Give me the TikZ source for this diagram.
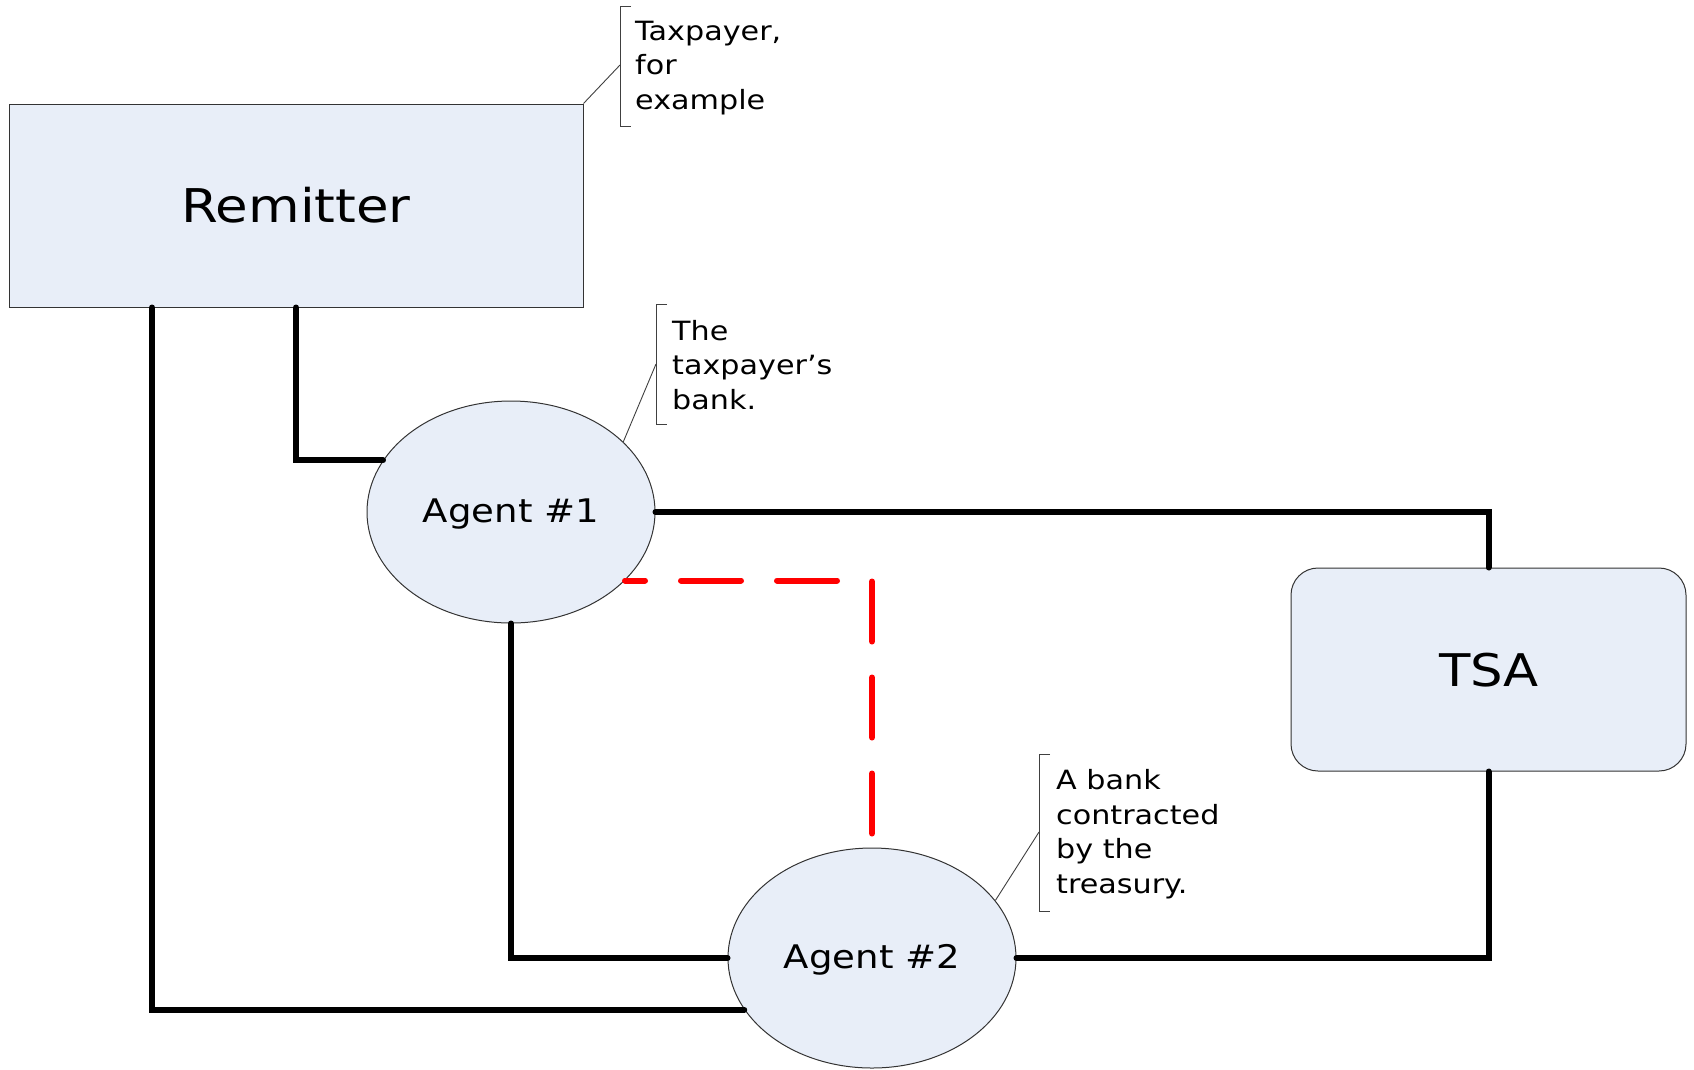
\documentclass[tikz,border=0pt]{standalone}
\usepackage{fontspec}
\setmainfont{DejaVu Sans}[FakeStretch=1.14]
\usetikzlibrary{shapes.geometric}
\definecolor{boxfill}{RGB}{232,238,248}
\tikzset{
  shapebox/.style={draw=black!80, line width=1pt, fill=boxfill, inner sep=0pt},
  conn/.style={line width=6pt, black, line cap=round},
  redconn/.style={line width=6pt, red, line cap=round, dash pattern=on 60pt off 36pt, dash phase=40pt},
  callline/.style={line width=0.9pt, black!75},
  calltext/.style={font=\fontsize{26.5}{34.6}\selectfont, align=left, anchor=west, inner sep=0pt},
  bigtext/.style={font=\fontsize{46.5}{55}\selectfont},
  tsatext/.style={font=\fontsize{45}{55}\selectfont},
  midtext/.style={font=\fontsize{32.5}{40}\selectfont}
}
\begin{document}
\begin{tikzpicture}[x=1pt,y=-1pt]
\useasboundingbox (0,0) rectangle (1694,1069);
\node[shapebox, rectangle, minimum width=574pt, minimum height=203pt] (rem) at (296,205.5) {};
\node[bigtext] (remt) at (296,205) {Remitter};
\node[shapebox, rectangle, rounded corners=27pt, minimum width=395pt, minimum height=203pt] (tsa) at (1488.5,669.5) {};
\node[tsatext] (tsat) at (1489,670) {TSA};
\node[shapebox, ellipse, minimum width=288pt, minimum height=222pt] (a1) at (511,512) {};
\node[midtext] (a1t) at (511,514) {Agent \#1};
\node[shapebox, ellipse, minimum width=288pt, minimum height=220pt] (a2) at (872,958) {};
\node[midtext] (a2t) at (872,960) {Agent \#2};

% connectors
\draw[conn] ([xshift=-144pt]rem.south) |- (a2.202);
\draw[conn] (rem.south) |- (a1.158);
\draw[conn] (a1.east) -| (tsa.north);
\draw[conn] (a1.south) |- (a2.west);
\draw[conn] (a2.east) -| (tsa.south);
\draw[redconn] (a1.-31) -| (a2.north);

% callouts
\coordinate (c1) at (620,65);
\draw[callline] (rem.north east) -- (c1);
\draw[callline] (631,6.5) -- (620,6.5) -- (620,126) -- (631,126);
\node[calltext] (t1) at (635,68) {Taxpayer,\\for\\example};

\coordinate (c2) at (656,364);
\draw[callline] (a1.32) -- (c2);
\draw[callline] (667,304) -- (656,304) -- (656,424) -- (667,424);
\node[calltext] (t2) at (672,365) {The\\taxpayer’s\\bank.};

\coordinate (c3) at (1039,832);
\draw[callline] (a2.25) -- (c3);
\draw[callline] (1050,754) -- (1039,754) -- (1039,911) -- (1050,911);
\node[calltext] (t3) at (1056,834) {A bank\\contracted\\by the\\treasury.};
\end{tikzpicture}
\end{document}
